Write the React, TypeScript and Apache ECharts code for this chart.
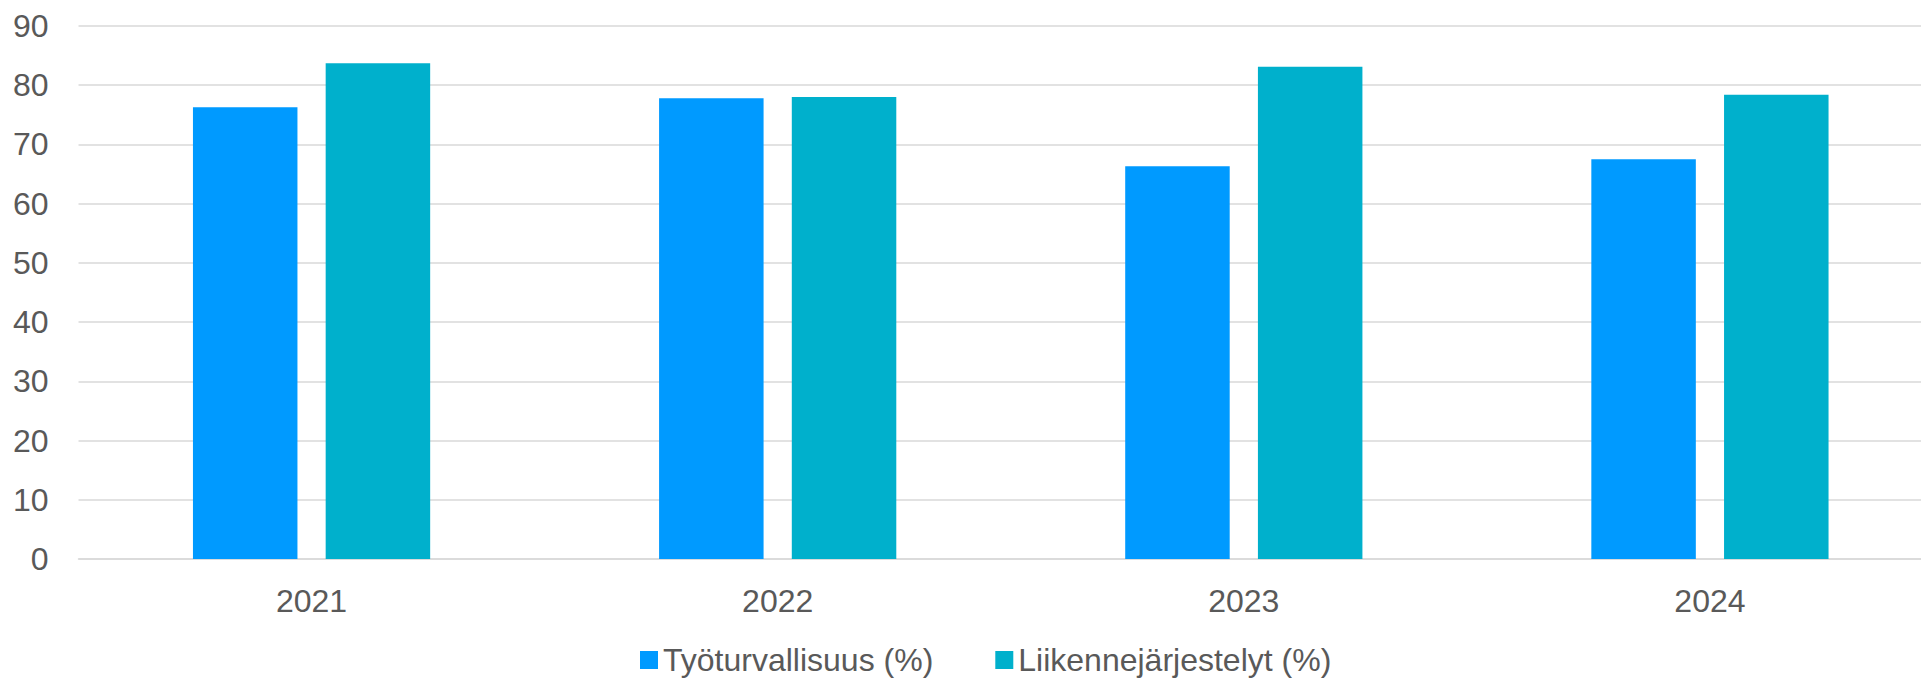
import React, { useEffect, useRef } from "react";
import * as echarts from "echarts";

const categories = ["2021", "2022", "2023", "2024"];
const tyoturvallisuus = [76.3, 77.8, 66.3, 67.5];
const liikennejarjestelyt = [83.7, 78.0, 83.1, 78.4];
const seriesNames = ["Työturvallisuus (%)", "Liikennejärjestelyt (%)"];
const yTicks = { min: 0, max: 90, interval: 10 };

const FONT = "'Liberation Sans', Arial, sans-serif";
const TEXT = "#595959";
const GRID = "#D9D9D9";

export default function App() {
  const ref = useRef<HTMLDivElement>(null);
  useEffect(() => {
    if (!ref.current) return;
    const chart = echarts.init(ref.current, undefined, { renderer: "svg" });
    chart.setOption({
      animation: false,
      backgroundColor: "#ffffff",
      textStyle: { fontFamily: FONT, color: TEXT },
      grid: { left: 78.5, right: 0, top: 26, bottom: 120, containLabel: false },
      legend: {
        left: 640,
        top: 644,
        padding: 0,
        itemWidth: 18,
        itemHeight: 18,
        itemGap: 62,
        icon: "rect",
        textStyle: { fontFamily: FONT, fontSize: 32, lineHeight: 32, color: TEXT },
        data: seriesNames,
      },
      xAxis: {
        type: "category",
        data: categories,
        axisLine: { show: true, lineStyle: { color: GRID, width: 1.5 } },
        axisTick: { show: false },
        axisLabel: { fontFamily: FONT, fontSize: 32, color: TEXT, margin: 26 },
      },
      yAxis: {
        type: "value",
        min: yTicks.min,
        max: yTicks.max,
        interval: yTicks.interval,
        axisLine: { show: false },
        axisTick: { show: false },
        splitLine: { show: true, lineStyle: { color: GRID, width: 1.5 } },
        axisLabel: { fontFamily: FONT, fontSize: 32, color: TEXT, margin: 30 },
      },
      series: [
        {
          name: seriesNames[0],
          type: "bar",
          data: tyoturvallisuus,
          barWidth: 104.5,
          barGap: "27%",
          itemStyle: { color: "#009AFF" },
        },
        {
          name: seriesNames[1],
          type: "bar",
          data: liikennejarjestelyt,
          barWidth: 104.5,
          barGap: "27%",
          itemStyle: { color: "#00B0CC" },
        },
      ],
    });
    return () => chart.dispose();
  }, []);
  return (
    <div
      style={{
        position: "fixed",
        left: 0,
        top: 0,
        width: 1921,
        height: 679,
        overflow: "hidden",
        background: "#fff",
      }}
    >
      <div ref={ref} style={{ width: 1943, height: 679 }} />
    </div>
  );
}
